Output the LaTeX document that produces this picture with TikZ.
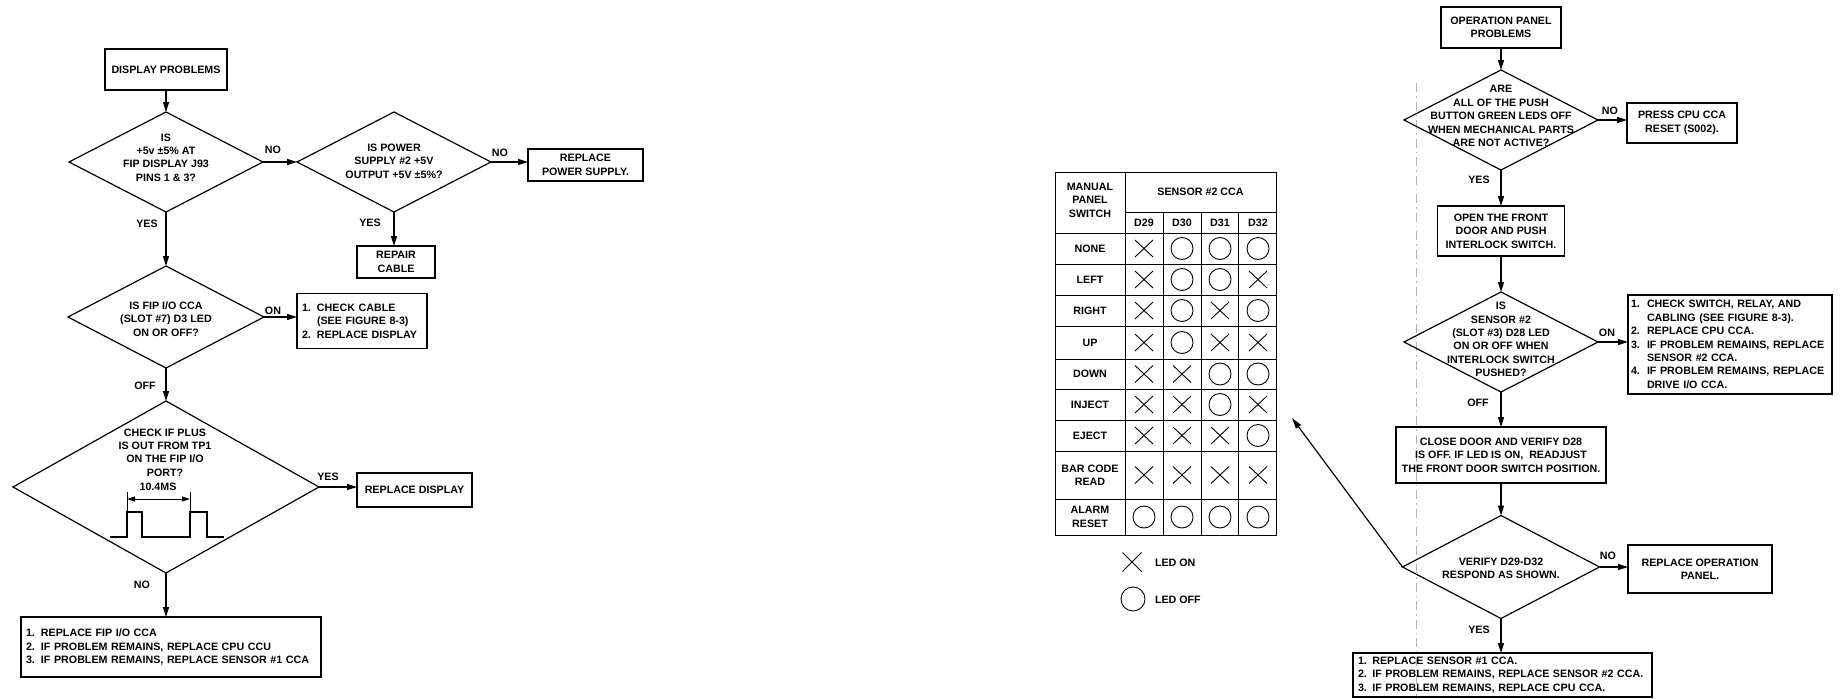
\documentclass[tikz,border=0pt]{standalone}
\usepackage{fontspec}
\setmainfont{Liberation Sans}
\usetikzlibrary{arrows.meta,shapes.geometric}
\newcommand{\ff}{\fontsize{10.7}{13.4}\selectfont\bfseries}
\newcommand{\lnum}[1]{\makebox[15pt][l]{#1}}
\newcommand{\mnum}[1]{\makebox[16pt][l]{#1}}
\begin{document}
\begin{tikzpicture}[x=1pt,y=-1pt,
  every node/.style={inner sep=0pt,outer sep=0pt},
  lw/.style={line width=1.2pt},
  box/.style={draw,lw,align=center,font=\ff},
  lbox/.style={draw,lw,align=left,font=\ff,inner xsep=5pt},
  dia/.style={draw,lw,diamond},
  txt/.style={align=center,font=\ff},
  lbl/.style={font=\ff},
  arr/.style={lw,-{Triangle[length=10pt,width=6pt]}},
  grid/.style={line width=0.9pt},
  sym/.style={line width=0.9pt},
]
\fill[white] (0,0) rectangle (1840,699);
\useasboundingbox (0,0) rectangle (1840,699);

% scan fold line
\draw[gray!60,line width=0.6pt,dash pattern=on 9pt off 4pt on 1.5pt off 4pt] (1416,83) -- (1416,699);

% ---------------- left flowchart ----------------
\node[box,minimum width=122pt,minimum height=41pt] (dp) at (166,69.5) {DISPLAY PROBLEMS};
\node[dia,minimum width=194pt,minimum height=100pt] (d1) at (166,162) {};
\node[txt] (d1t) at (166,157.5) {IS\\+5v ±5\% AT\\FIP DISPLAY J93\\PINS 1 \& 3?};
\node[dia,minimum width=194pt,minimum height=100pt] (d2) at (394,162) {};
\node[txt] (d2t) at (394,161) {IS POWER\\SUPPLY \#2 +5V\\OUTPUT +5V ±5\%?};
\node[box,minimum width=115pt,minimum height=32pt] (ps) at (585.5,165) {REPLACE\\POWER SUPPLY.};
\node[box,minimum width=78pt,minimum height=32pt] (rc) at (396,262) {REPAIR\\CABLE};
\node[dia,minimum width=196pt,minimum height=102pt] (d3) at (166,317) {};
\node[txt] (d3t) at (166,319) {IS FIP I/O CCA\\(SLOT \#7) D3 LED\\ON OR OFF?};
\node[lbox,text width=120pt,minimum height=55pt] (cc) at (362,321) {\mbox{\lnum{1.}CHECK CABLE}\\\mbox{\lnum{}(SEE FIGURE 8-3)}\\\mbox{\lnum{2.}REPLACE DISPLAY}};
\node[dia,minimum width=306pt,minimum height=172pt] (d4) at (166,487) {};
\node[txt] (d4t) at (165,452.5) {CHECK IF PLUS\\IS OUT FROM TP1\\ON THE FIP I/O\\PORT?};
\node[lbl] (pw) at (158,487) {10.4MS};
\draw[lw] (110,537) -- (127,537) -- (127,512) -- (142,512) -- (142,537) -- (190,537) -- (190,512) -- (207,512) -- (207,537) -- (224,537);
\draw[line width=0.8pt] (127,492) -- (127,512) (190,492) -- (190,512);
\draw[line width=1pt,{Triangle[length=8pt,width=5pt]}-{Triangle[length=8pt,width=5pt]}] (127,499) -- (190,499);
\node[box,minimum width=115pt,minimum height=34pt] (rd) at (414.5,490) {REPLACE DISPLAY};
\node[lbox,text width=290pt,minimum height=60pt] (fb) at (171,647) {\mbox{\lnum{1.}REPLACE FIP I/O CCA}\\\mbox{\lnum{2.}IF PROBLEM REMAINS, REPLACE CPU CCU}\\\mbox{\lnum{3.}IF PROBLEM REMAINS, REPLACE SENSOR \#1 CCA}};

\draw[arr] (dp) -- (d1.north);
\draw[arr] (d1.east) -- (d2.west);
\draw[arr] (d2.east) -- (d2.east -| ps.west);
\draw[arr] (d2.south) -- (d2.south |- rc.north);
\draw[arr] (d1.south) -- (d3.north);
\draw[arr] (d3.east) -- (d3.east -| cc.west);
\draw[arr] (d3.south) -- (d4.north);
\draw[arr] (d4.east) -- (d4.east -| rd.west);
\draw[arr] (d4.south) -- (d4.south |- fb.north);

\node[lbl] (l1) at (273,150) {NO};
\node[lbl] (l2) at (147,224) {YES};
\node[lbl] (l3) at (500,153) {NO};
\node[lbl] (l4) at (370,223) {YES};
\node[lbl] (l5) at (273,311) {ON};
\node[lbl] (l6) at (145,386) {OFF};
\node[lbl] (l7) at (328,477) {YES};
\node[lbl] (l8) at (142,585) {NO};

% ---------------- table ----------------
\draw[grid] (1055,172) rectangle (1276,535);
\draw[grid] (1125,172) -- (1125,535);
\draw[grid] (1125,212) -- (1276,212);
\foreach \x in {1163,1201,1238} \draw[grid] (\x,212) -- (\x,535);
\foreach \y in {233,264,295,326,359,389,420,451,499} \draw[grid] (1055,\y) -- (1276,\y);
\node[txt] (th1) at (1090,200) {MANUAL\\PANEL\\SWITCH};
\node[lbl] (th2) at (1200.5,192) {SENSOR \#2 CCA};
\foreach \t [count=\i] in {D29,D30,D31,D32} \node[lbl] (dh\i) at ({1106+38*\i},222.5) {\t};
\foreach \lab/\ya/\yb/\pa/\pb/\pc/\pd [count=\r] in {NONE/233/264/1/0/0/0, LEFT/264/295/1/0/0/1, RIGHT/295/326/1/0/1/0, UP/326/359/1/0/1/1, DOWN/359/389/1/1/0/0, INJECT/389/420/1/1/0/1, EJECT/420/451/1/1/1/0, {BAR CODE\\READ}/451/499/1/1/1/1, {ALARM\\RESET}/499/535/0/0/0/0} {
  \pgfmathsetmacro\cy{(\ya+\yb)/2}
  \node[txt] (row\r) at (1090,\cy) {\lab};
  \foreach \v [count=\k] in {\pa,\pb,\pc,\pd} {
    \pgfmathsetmacro\cx{1106+38*\k}
    \ifnum\v=1
      \draw[sym] (\cx-9,\cy-8.5) -- (\cx+9,\cy+8.5) (\cx-9,\cy+8.5) -- (\cx+9,\cy-8.5);
    \else
      \draw[sym] (\cx,\cy) circle[radius=11];
    \fi
  }
}
\draw[sym] (1122.5,552.5) -- (1141.5,571.5) (1122.5,571.5) -- (1141.5,552.5);
\node[lbl,anchor=west] (lon) at (1155,563) {LED ON};
\draw[sym] (1133,599) circle[radius=12];
\node[lbl,anchor=west] (loff) at (1155,600) {LED OFF};

% ---------------- right flowchart ----------------
\node[box,minimum width=120pt,minimum height=41pt] (op) at (1501,27.5) {OPERATION PANEL\\PROBLEMS};
\node[dia,minimum width=194pt,minimum height=100pt] (d5) at (1501,120) {};
\node[txt] (d5t) at (1501,116) {ARE\\ALL OF THE PUSH\\BUTTON GREEN LEDS OFF\\WHEN MECHANICAL PARTS\\ARE NOT ACTIVE?};
\node[box,minimum width=110pt,minimum height=40pt] (pc) at (1682,123) {PRESS CPU CCA\\RESET (S002).};
\node[box,minimum width=127pt,minimum height=50pt] (of) at (1501,231) {OPEN THE FRONT\\DOOR AND PUSH\\INTERLOCK SWITCH.};
\node[dia,minimum width=194pt,minimum height=100pt] (d6) at (1501,342) {};
\node[txt] (d6t) at (1501,339.5) {IS\\SENSOR \#2\\(SLOT \#3) D28 LED\\ON OR OFF WHEN\\INTERLOCK SWITCH\\PUSHED?};
\node[lbox,inner xsep=3pt,text width=198pt,minimum height=99pt] (cs) at (1730,344.5) {\mbox{\mnum{1.}CHECK SWITCH, RELAY, AND}\\\mbox{\mnum{}CABLING (SEE FIGURE 8-3).}\\\mbox{\mnum{2.}REPLACE CPU CCA.}\\\mbox{\mnum{3.}IF PROBLEM REMAINS, REPLACE}\\\mbox{\mnum{}SENSOR \#2 CCA.}\\\mbox{\mnum{4.}IF PROBLEM REMAINS, REPLACE}\\\mbox{\mnum{}DRIVE I/O CCA.}};
\node[box,minimum width=210pt,minimum height=56pt] (cd) at (1501,455) {CLOSE DOOR AND VERIFY D28\\IS OFF. IF LED IS ON,\ \ READJUST\\THE FRONT DOOR SWITCH POSITION.};
\node[dia,minimum width=197pt,minimum height=103pt] (d7) at (1501,567) {};
\node[txt] (d7t) at (1501,568.5) {VERIFY D29-D32\\RESPOND AS SHOWN.};
\node[box,minimum width=144pt,minimum height=48pt] (ro) at (1700,569) {REPLACE OPERATION\\PANEL.};
\node[lbox,text width=289pt,minimum height=44pt] (fr) at (1502.5,675) {\mbox{1. REPLACE SENSOR \#1 CCA.}\\\mbox{2. IF PROBLEM REMAINS, REPLACE SENSOR \#2 CCA.}\\\mbox{3. IF PROBLEM REMAINS, REPLACE CPU CCA.}};
\coordinate (tip) at (1292,418);

\draw[arr] (op) -- (d5.north);
\draw[arr] (d5.east) -- (d5.east -| pc.west);
\draw[arr] (d5.south) -- (of.north);
\draw[arr] (of) -- (d6.north);
\draw[arr] (d6.east) -- (d6.east -| cs.west);
\draw[arr] (d6.south) -- (cd.north);
\draw[arr] (cd) -- (d7.north);
\draw[arr] (d7.east) -- (d7.east -| ro.west);
\draw[arr] (d7.south) -- (d7.south |- fr.north);
\draw[lw,-{Triangle[length=11pt,width=6pt]}] (d7.west) -- (tip);

\node[lbl] (r1) at (1610,111) {NO};
\node[lbl] (r2) at (1479,180) {YES};
\node[lbl] (r3) at (1607,333) {ON};
\node[lbl] (r4) at (1478,403) {OFF};
\node[lbl] (r5) at (1608,556) {NO};
\node[lbl] (r6) at (1479,630) {YES};
\end{tikzpicture}
\end{document}
